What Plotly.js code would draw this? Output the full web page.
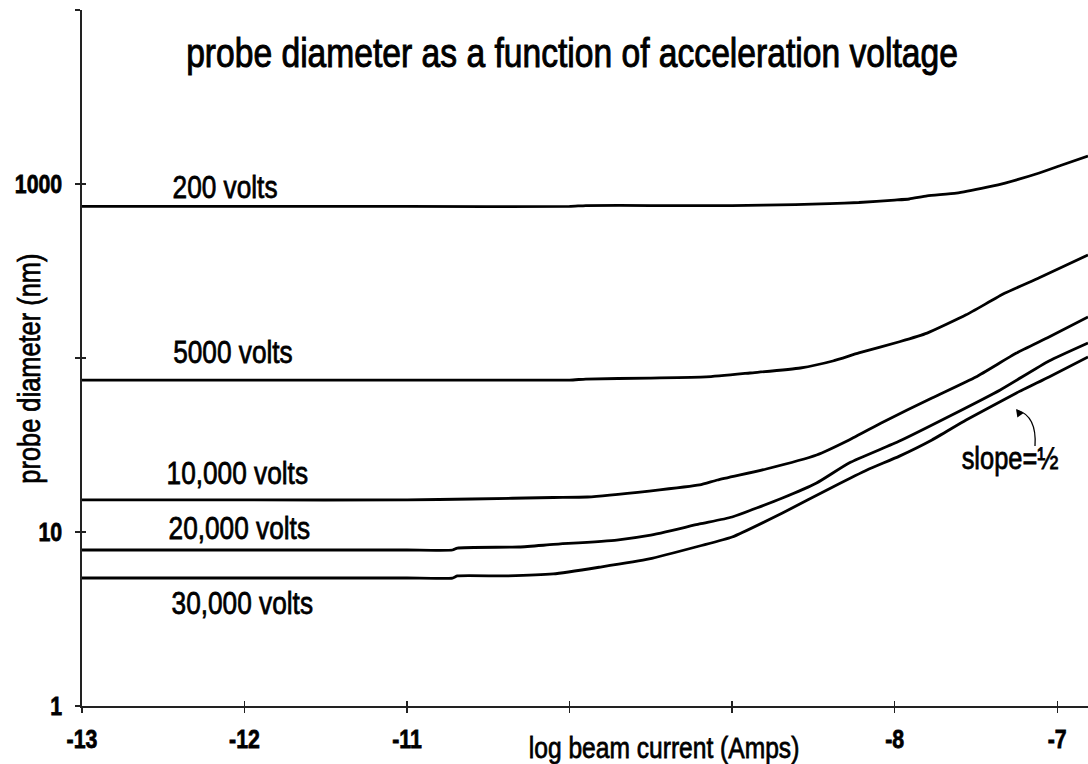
<!DOCTYPE html>
<html><head><meta charset="utf-8">
<script src="https://cdn.plot.ly/plotly-3.0.1.min.js"></script>
<style>html,body{margin:0;padding:0;background:#fff}#chart{width:1088px;height:764px}</style>
</head><body><div id="chart"></div>
<script>
// ---- data (log10 beam current in Amps vs probe diameter in nm) ----
const curveNames = ['200 volts', '5000 volts', '10,000 volts', '20,000 volts', '30,000 volts'];

const x200  = [-13, -12, -11, -10, -9.9, -9.5, -9, -8.61, -8.4, -8.22, -8.0, -7.91, -7.8, -7.62, -7.43, -7.32, -7.11, -6.97, -6.81];
const y200  = [743, 743, 743, 743, 752, 752, 752, 762, 772, 783, 808, 820, 854, 887, 961, 1013, 1157, 1286, 1449];

const x5000 = [-13, -12, -11, -10, -9.9, -9.51, -9.16, -8.89, -8.58, -8.38, -8.22, -7.97, -7.8, -7.56, -7.32, -7.11, -6.81];
const y5000 = [74.7, 74.7, 74.7, 74.7, 75.7, 76.7, 77.8, 82.0, 87.6, 96.1, 107, 124, 139, 177, 236, 289, 391];

const x10k  = [-13, -12, -11, -10.6, -10.1, -9.89, -9.51, -9.2, -9.09, -8.79, -8.48, -8.28, -8.07, -7.77, -7.5, -7.25, -7.05, -6.81];
const y10k  = [15.28, 15.28, 15.28, 15.48, 15.79, 15.89, 17.2, 18.63, 19.9, 23.02, 27.7, 33.8, 42.9, 58.9, 77.8, 106.8, 132, 172];

const x20k  = [-13, -12, -11, -10.72, -10.69, -10.31, -10.1, -9.71, -9.51, -9.2, -9.0, -8.69, -8.48, -8.28, -7.97, -7.66, -7.35, -7.05, -6.81];
const y20k  = [7.88, 7.88, 7.88, 7.88, 8.09, 8.2, 8.48, 8.99, 9.55, 11.12, 12.2, 15.68, 19.12, 24.93, 33.3, 46.4, 65.5, 96.1, 122];

const x30k  = [-13, -12, -11, -10.72, -10.69, -10.39, -10.1, -9.81, -9.51, -9.2, -9.0, -8.69, -8.38, -8.17, -7.97, -7.77, -7.56, -7.25, -7.05, -6.81];
const y30k  = [5.44, 5.44, 5.44, 5.44, 5.59, 5.59, 5.74, 6.29, 7.0, 8.31, 9.36, 12.86, 18.14, 22.7, 27.3, 33.8, 44.0, 62.9, 77.8, 101.3];

const xTickVals = [-13, -12, -11, -10, -9, -8, -7];
const xTickText = ['-13', '-12', '-11', '', '', '-8', '-7'];
const yTickVals = [1, 10, 100, 1000, 10000];
const yTickText = ['1', '10', '', '1000', ''];

const chartTitle = 'probe diameter as a function of acceleration voltage';
const xTitle = 'log beam current (Amps)';
const yTitle = 'probe diameter (nm)';
const slopeNote = 'slope=½';

// ---- layout helpers ----
const W = 1088, H = 764, ML = 82, MR = 0, MT = 10, MB = 58;
const px = v => (v - ML) / (W - ML - MR);
const py = v => (H - MB - v) / (H - MT - MB);
const FONT = "'Liberation Sans', Arial, sans-serif";
const NARROW_RATIO = 0.82;   // emulate a narrow face by squeezing glyphs horizontally
const INK = '#000';

const xs = [x200, x5000, x10k, x20k, x30k];
const ys = [y200, y5000, y10k, y20k, y30k];

const traces = xs.map((xv, i) => ({
  x: xv, y: ys[i], name: curveNames[i], type: 'scatter', mode: 'lines',
  line: {color: INK, width: 2.8, shape: 'spline', smoothing: 0.5},
  showlegend: false, hoverinfo: 'x+y+name'
}));
traces.push({x: [], y: [], xaxis: 'x2', yaxis: 'y2', showlegend: false, hoverinfo: 'skip'});

const labelPos = [[224.5, 187], [232.5, 352], [237.5, 473], [239, 528], [242, 603]];

const annotations = curveNames.map((n, i) => ({
  text: n, xref: 'paper', yref: 'paper', x: px(labelPos[i][0]), y: py(labelPos[i][1]),
  xanchor: 'center', yanchor: 'middle', showarrow: false,
  font: {family: FONT, size: 32, color: INK}
}));
annotations.push({
  text: xTitle, xref: 'paper', yref: 'paper', x: px(664), y: py(747),
  xanchor: 'center', yanchor: 'middle', showarrow: false,
  font: {family: FONT, size: 30, color: INK}
});
annotations.push({
  text: yTitle, xref: 'paper', yref: 'paper', x: px(29), y: py(369), textangle: -90,
  xanchor: 'center', yanchor: 'middle', showarrow: false,
  font: {family: FONT, size: 31, color: INK}
});
annotations.push({
  text: slopeNote, xref: 'paper', yref: 'paper', x: px(1010), y: py(458),
  xanchor: 'center', yanchor: 'middle', showarrow: false,
  font: {family: FONT, size: 31, color: INK}
});
annotations.push({
  text: '', xref: 'paper', yref: 'paper', x: px(1016), y: py(409),
  showarrow: true, arrowhead: 2, arrowsize: 1.3, arrowwidth: 1.2, arrowcolor: INK, ax: 5, ay: 7
});

const axisCommon = {
  showgrid: false, zeroline: false, showline: true, linecolor: '#222', linewidth: 1.6,
  ticks: 'outside', ticklen: 5, tickwidth: 1.2, tickcolor: '#222',
  tickfont: {family: FONT, size: 26, color: INK, weight: 700}, fixedrange: true
};

const layout = {
  width: W, height: H, paper_bgcolor: '#fff', plot_bgcolor: '#fff',
  margin: {l: ML, r: MR, t: MT, b: MB, pad: 0},
  title: {text: chartTitle, x: 572 / W, xanchor: 'center', xref: 'container',
          y: 1 - 53 / H, yanchor: 'middle', yref: 'container',
          font: {family: FONT, size: 41, color: INK}},
  xaxis: Object.assign({}, axisCommon, {range: [-13, -6.81], tickvals: xTickVals, ticktext: xTickText, ticklabelstandoff: 4}),
  yaxis: Object.assign({}, axisCommon, {type: 'log', range: [0, 4], tickvals: yTickVals, ticktext: yTickText, ticklabelstandoff: 8}),
  xaxis2: {overlaying: 'x', anchor: 'y', side: 'bottom', range: [-13, -6.81], tickvals: xTickVals,
           ticks: 'inside', ticklen: 5, tickwidth: 1.2, tickcolor: '#222', showticklabels: false,
           showline: false, showgrid: false, zeroline: false, fixedrange: true},
  yaxis2: {overlaying: 'y', anchor: 'x', side: 'left', type: 'log', range: [0, 4], tickvals: yTickVals,
           ticks: 'inside', ticklen: 4, tickwidth: 1.2, tickcolor: '#222', showticklabels: false,
           showline: false, showgrid: false, zeroline: false, fixedrange: true},
  shapes: [{
    type: 'path', xref: 'paper', yref: 'paper',
    path: 'M ' + px(1035) + ' ' + py(446) + ' Q ' + px(1037) + ' ' + py(416) + ' ' + px(1017) + ' ' + py(410),
    line: {color: INK, width: 1.3}
  }],
  annotations: annotations,
  showlegend: false
};

Plotly.newPlot('chart', traces, layout, {displayModeBar: false, staticPlot: true}).then(gd => {
  gd.querySelectorAll('text').forEach(t => {
    if (!t.textContent || !t.textContent.trim()) return;
    const b = t.getBBox();
    if (!b.width) return;
    const anchor = getComputedStyle(t).textAnchor || t.getAttribute('text-anchor') || 'start';
    const ax = anchor === 'middle' ? b.x + b.width / 2 : (anchor === 'end' ? b.x + b.width : b.x);
    const prev = t.getAttribute('transform') || '';
    t.setAttribute('transform', (prev + ' translate(' + ax + ',0) scale(' + NARROW_RATIO + ',1) translate(' + (-ax) + ',0)').trim());
    // heavier strokes, like the scanned original
    const isTitle = t.classList.contains('gtitle');
    t.style.stroke = INK;
    t.style.strokeWidth = isTitle ? '1px' : '0.75px';
  });
});
</script>
</body></html>
